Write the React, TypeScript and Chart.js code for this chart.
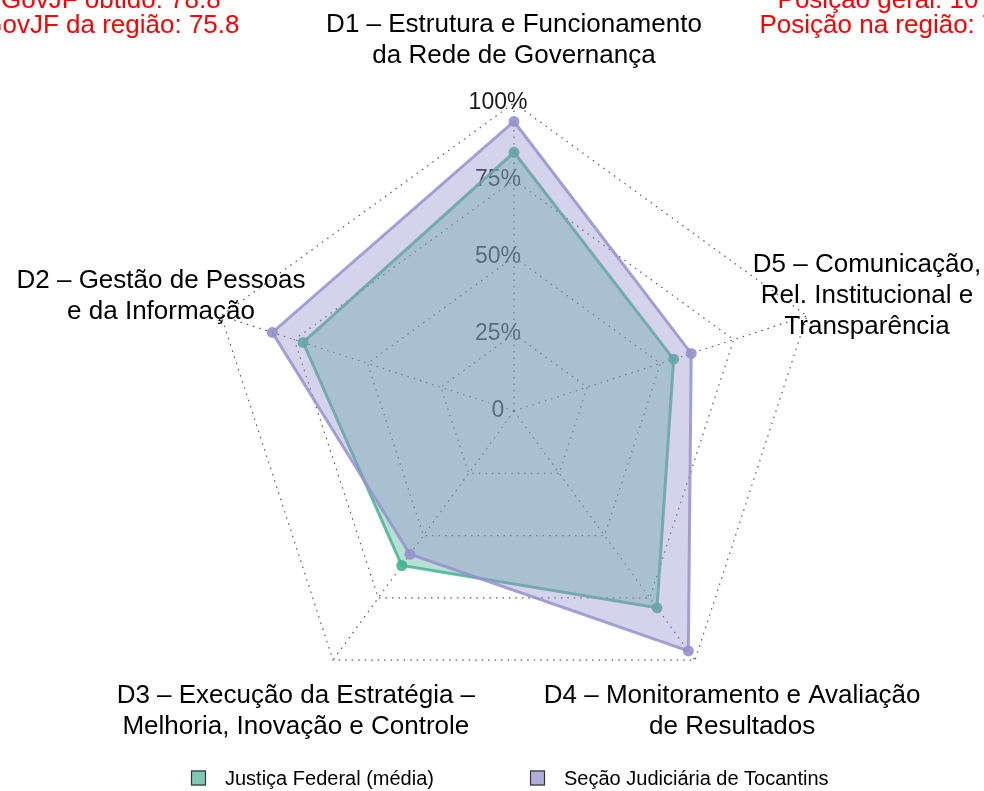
import React, { useEffect, useRef } from "react";
import { Chart, registerables } from "chart.js";

Chart.register(...registerables);

// ---- data (natural order D1..D5, counter-clockwise from top in the reference) ----
const dimensions: string[][] = [
  ["D1 – Estrutura e Funcionamento", "da Rede de Governança"],
  ["D2 – Gestão de Pessoas", "e da Informação"],
  ["D3 – Execução da Estratégia –", "Melhoria, Inovação e Controle"],
  ["D4 – Monitoramento e Avaliação", "de Resultados"],
  ["D5 – Comunicação,", "Rel. Institucional e", "Transparência"],
];
const justicaFederal = [84, 72, 62, 79, 54.5];
const tocantins = [94, 82.5, 57.5, 96.3, 60.5];
const seriesNames = ["Justiça Federal (média)", "Seção Judiciária de Tocantins"];
const tickValues = [0, 25, 50, 75, 100];
const tickLabels = ["0", "25%", "50%", "75%", "100%"];
const headerLeft = ["iGovJF obtido: 78.8", "iGovJF da região: 75.8"];
const headerRight = ["Posição geral: 10", "Posição na região: 7"];
// Chart.js places axes clockwise; the reference runs counter-clockwise
const axisOrder = [0, 4, 3, 2, 1];

const FONT = '"Liberation Sans", Arial, Helvetica, sans-serif';

const JF_RGB = "72,178,145";
const TO_RGB = "150,146,204";

const overlayPlugin = {
  id: "overlay",
  beforeDatasetsDraw(chart: any) {
    const s = chart.scales.r;
    const ctx = chart.ctx as CanvasRenderingContext2D;
    ctx.save();
    ctx.font = `23px ${FONT}`;
    ctx.fillStyle = "#1a1a1a";
    ctx.textAlign = "center";
    ctx.textBaseline = "middle";
    tickValues.forEach((v, i) => {
      const p = s.getPointPositionForValue(0, v);
      ctx.fillText(tickLabels[i], p.x - 16, p.y);
    });
    ctx.restore();
  },
  afterDraw(chart: any) {
    const s = chart.scales.r;
    const ctx = chart.ctx as CanvasRenderingContext2D;
    ctx.save();
    // axis labels
    ctx.font = `26px ${FONT}`;
    ctx.fillStyle = "#000";
    ctx.textAlign = "center";
    ctx.textBaseline = "middle";
    const lh = 31;
    (chart.data.labels as string[][]).forEach((lines, i) => {
      const p = s.getPointPosition(i, s.drawingArea * 1.205);
      lines.forEach((ln, k) => {
        ctx.fillText(ln, p.x, p.y + (k - (lines.length - 1) / 2) * lh);
      });
    });
    // header annotations
    ctx.fillStyle = "#ff0000";
    ctx.textBaseline = "alphabetic";
    const baselines = [8, 33];
    headerLeft.forEach((t, k) => ctx.fillText(t, 108, baselines[k]));
    headerRight.forEach((t, k) => ctx.fillText(t, 878, baselines[k]));
    // legend
    ctx.font = `20px ${FONT}`;
    ctx.textAlign = "left";
    ctx.textBaseline = "middle";
    const box = 15;
    const gapText = 19;
    const slots = [191, 530];
    const cy = 778;
    chart.data.datasets.forEach((d: any, i: number) => {
      const x = slots[i];
      ctx.fillStyle = d.legendColor;
      ctx.fillRect(x, cy - box / 2, box, box);
      ctx.strokeStyle = "#333";
      ctx.lineWidth = 1.2;
      ctx.strokeRect(x + 0.5, cy - box / 2 + 0.5, box - 1, box - 1);
      ctx.fillStyle = "#000";
      ctx.fillText(d.label, x + box + gapText, cy + 1);
    });
    ctx.restore();
  },
};

export default function App() {
  const ref = useRef<HTMLCanvasElement>(null);
  useEffect(() => {
    if (!ref.current) return;
    const chart = new Chart(ref.current, {
      type: "radar",
      data: {
        labels: axisOrder.map((i) => dimensions[i]) as any,
        datasets: [
          {
            label: seriesNames[0],
            data: axisOrder.map((i) => justicaFederal[i]),
            borderColor: `rgba(${JF_RGB},0.85)`,
            backgroundColor: `rgba(${JF_RGB},0.4)`,
            pointBackgroundColor: `rgba(${JF_RGB},0.9)`,
            pointBorderWidth: 0,
            pointRadius: 5.5,
            borderWidth: 3,
            fill: true,
            order: 1,
            legendColor: `rgba(${JF_RGB},0.7)`,
          } as any,
          {
            label: seriesNames[1],
            data: axisOrder.map((i) => tocantins[i]),
            borderColor: `rgba(${TO_RGB},0.85)`,
            backgroundColor: `rgba(${TO_RGB},0.4)`,
            pointBackgroundColor: `rgba(${TO_RGB},0.9)`,
            pointBorderWidth: 0,
            pointRadius: 5.5,
            borderWidth: 3,
            fill: true,
            order: 0,
            legendColor: `rgba(${TO_RGB},0.75)`,
          } as any,
        ],
      },
      options: {
        responsive: false,
        animation: false,
        layout: { padding: { left: 44, right: 0, top: 103, bottom: 72 } },
        plugins: { legend: { display: false }, tooltip: { enabled: false } },
        scales: {
          r: {
            min: 0,
            max: 100,
            ticks: { display: false, stepSize: 25 },
            pointLabels: { display: false },
            grid: { color: "rgba(60,60,60,0.85)", lineWidth: 1.2 },
            border: { dash: [1.5, 5] },
            angleLines: {
              color: "rgba(60,60,60,0.85)",
              lineWidth: 1.2,
              borderDash: [1.5, 5],
            },
          } as any,
        },
      },
      plugins: [overlayPlugin],
    });
    return () => chart.destroy();
  }, []);
  return (
    <div style={{ position: "absolute", left: 0, top: 0, width: 984, height: 791, background: "#fff" }}>
      <canvas ref={ref} width={984} height={791} style={{ display: "block" }} />
    </div>
  );
}
